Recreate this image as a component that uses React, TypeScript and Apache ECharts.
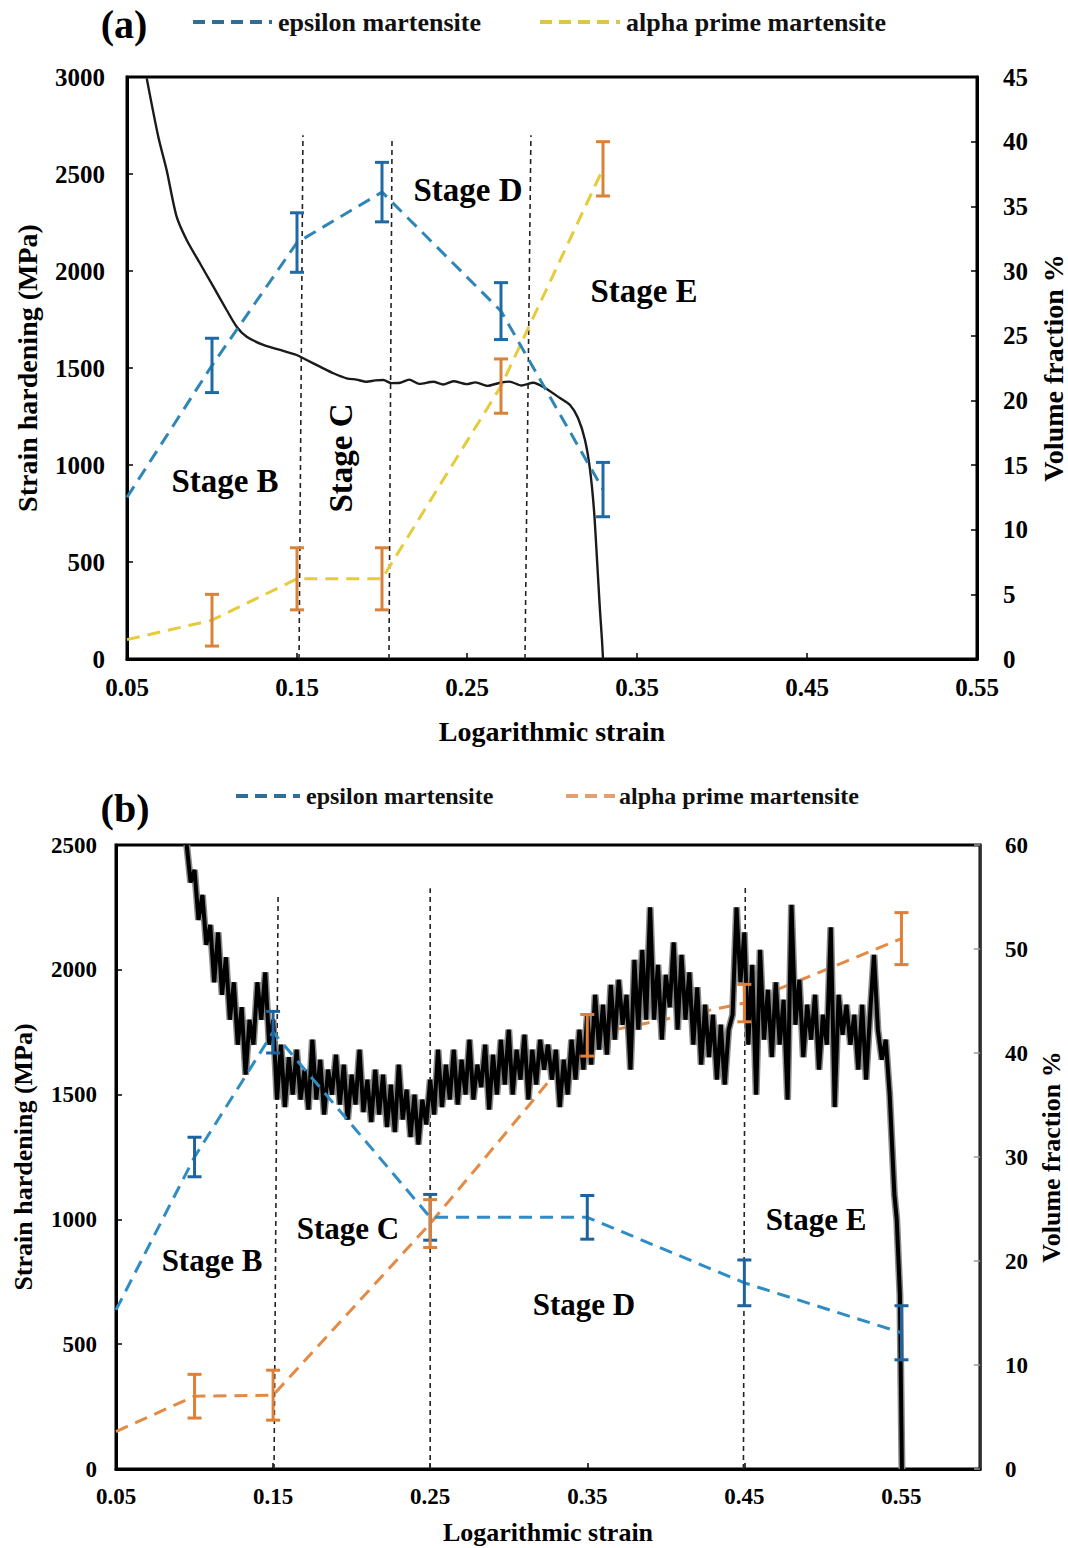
import React, { useEffect, useRef } from "react";
import * as echarts from "echarts";

// ---------- Panel (a) data ----------
const aStrain = [0.0616, 0.0684, 0.0733, 0.0792, 0.0851, 0.0929, 0.1008, 0.1086, 0.1145, 0.1204, 0.1302, 0.14, 0.1498, 0.1557, 0.1635, 0.1714, 0.1792, 0.185, 0.191, 0.196, 0.2008, 0.2055, 0.2106, 0.216, 0.222, 0.2302, 0.236, 0.242, 0.2498, 0.255, 0.262, 0.2694, 0.275, 0.282, 0.289, 0.2959, 0.3047, 0.3106, 0.3153, 0.3194, 0.3224, 0.3247, 0.3265, 0.3282, 0.3294, 0.33];
const aHardening = [2993, 2692, 2521, 2280, 2160, 2040, 1919, 1799, 1713, 1661, 1619, 1593, 1567, 1541, 1507, 1473, 1447, 1440, 1429, 1436, 1438, 1422, 1424, 1440, 1418, 1429, 1415, 1432, 1417, 1426, 1408, 1424, 1430, 1410, 1424, 1397, 1345, 1309, 1242, 1129, 974, 768, 510, 253, 98, 0];

const aEpsStrain = [0.05, 0.1, 0.15, 0.2, 0.27, 0.33];
const aEpsVal = [12.5, 22.7, 32.2, 36.1, 26.9, 13.1];
const aEpsErr = [null, 2.1, 2.3, 2.3, 2.2, 2.1];
const aAlphaStrain = [0.05, 0.1, 0.15, 0.2, 0.27, 0.33];
const aAlphaVal = [1.5, 3.0, 6.2, 6.2, 21.1, 37.9];
const aAlphaErr = [null, 2.0, 2.4, 2.4, 2.1, 2.1];

const aStageTop = [0.1535, 0.2059, 0.2876];
const aStageBottom = [0.1512, 0.2041, 0.2841];
const aStageTopValue = [2700, 2686, 2700];

// ---------- Panel (b) data ----------
const bCurveStart = 0.095;
const bCurveStep = 0.0025;
const bHardening = [
  2500, 2350, 2400, 2200, 2300, 2100, 2180, 1950, 2150, 1900,
  2050, 1800, 1950, 1700, 1850, 1580, 1800, 1700, 1950, 1800,
  1990, 1700, 1800, 1480, 1700, 1450, 1650, 1500, 1680, 1480,
  1600, 1440, 1720, 1480, 1640, 1420, 1600, 1500, 1660, 1460,
  1620, 1400, 1580, 1460, 1680, 1430, 1560, 1390, 1600, 1420,
  1580, 1370, 1540, 1350, 1620, 1400, 1520, 1330, 1500, 1300,
  1480, 1380, 1560, 1420, 1680, 1450, 1620, 1480, 1680, 1460,
  1640, 1500, 1720, 1480, 1620, 1530, 1700, 1440, 1660, 1500,
  1720, 1540, 1760, 1500, 1680, 1560, 1740, 1480, 1680, 1540,
  1720, 1600, 1700, 1560, 1680, 1450, 1640, 1500, 1720, 1560,
  1760, 1600, 1820, 1620, 1900, 1680, 1860, 1660, 1940, 1720,
  1960, 1780, 1900, 1600, 2040, 1760, 2080, 1800, 2250, 1800,
  2020, 1720, 1980, 1850, 2110, 1760, 2060, 1800, 1990, 1700,
  1930, 1620, 1860, 1650, 1820, 1560, 1780, 1540, 1760, 1820,
  2250, 1950, 2150, 1700, 2020, 1500, 2080, 1720, 1920, 1650,
  1950, 1700, 1880, 1480, 2260, 1780, 1960, 1650, 1860, 1720,
  1900, 1600, 1820, 1700, 2170, 1450, 1900, 1740, 1860, 1700,
  1820, 1600, 1860, 1560, 1820, 2060, 1760, 1640, 1720, 1500,
];
const bTailStrain = [0.544, 0.5455, 0.547, 0.548, 0.549, 0.5495, 0.5503];
const bTailHardening = [1300, 1100, 1000, 850, 700, 420, 0];

const bEpsStrain = [0.05, 0.1, 0.15, 0.25, 0.35, 0.45, 0.55];
const bEpsVal = [15.3, 30.0, 42.0, 24.2, 24.2, 17.9, 13.1];
const bEpsErr = [null, 1.9, 2.0, 2.2, 2.1, 2.2, 2.6];
const bAlphaStrain = [0.05, 0.1, 0.15, 0.25, 0.35, 0.45, 0.55];
const bAlphaVal = [3.6, 7.0, 7.1, 23.6, 41.7, 44.8, 51.0];
const bAlphaErr = [null, 2.1, 2.4, 2.3, 2.0, 1.8, 2.5];

const bStageTop = [0.1532, 0.25, 0.4506];
const bStageBottom = [0.1506, 0.25, 0.4494];
const bStageTopValue = [2300, 2327, 2340];

const xTicksA = [0.05, 0.15, 0.25, 0.35, 0.45, 0.55];
const xTicksB = [0.05, 0.15, 0.25, 0.35, 0.45, 0.55];

const FONT = '"Liberation Serif", "Times New Roman", serif';

function zip(xs: number[], ys: number[]) {
  return xs.map((x, i) => [x, ys[i]]);
}
function errData(xs: number[], vs: number[], es: (number | null)[]) {
  const out: number[][] = [];
  xs.forEach((x, i) => {
    const e = es[i];
    if (e != null) out.push([x, vs[i] - e, vs[i] + e]);
  });
  return out;
}
function errSeries(data: number[][], color: string, gi: number, yi: number) {
  return {
    type: "custom",
    xAxisIndex: gi,
    yAxisIndex: yi,
    z: 10,
    encode: { x: 0, y: [1, 2] },
    data,
    renderItem: (params: any, api: any) => {
      const x = api.value(0);
      const p1 = api.coord([x, api.value(2)]);
      const p2 = api.coord([x, api.value(1)]);
      const w = 7;
      const st = { stroke: color, lineWidth: 3 };
      return {
        type: "group",
        children: [
          { type: "line", shape: { x1: p1[0], y1: p1[1], x2: p2[0], y2: p2[1] }, style: st },
          { type: "line", shape: { x1: p1[0] - w, y1: p1[1], x2: p1[0] + w, y2: p1[1] }, style: st },
          { type: "line", shape: { x1: p2[0] - w, y1: p2[1], x2: p2[0] + w, y2: p2[1] }, style: st },
        ],
      };
    },
  };
}
function dashSeries(data: number[][], color: string, gi: number, yi: number, z: number) {
  return {
    type: "line",
    xAxisIndex: gi,
    yAxisIndex: yi,
    data,
    showSymbol: false,
    symbol: "none",
    z,
    lineStyle: { color, width: 3, type: [13, 8] },
  };
}
function stageLines(tops: number[], bottoms: number[], topVals: number[], gi: number) {
  return tops.map((t, i) => ({
    type: "line",
    xAxisIndex: gi,
    yAxisIndex: gi * 2,
    data: [
      [bottoms[i], 0],
      [t, topVals[i]],
    ],
    showSymbol: false,
    symbol: "none",
    z: 1,
    lineStyle: { color: "#222", width: 1.6, type: [5, 4] },
  }));
}

function axisBase(fs: number, margin: number) {
  return {
    axisLine: { show: true, onZero: false, lineStyle: { color: "#000", width: 3 } },
    axisTick: { show: true, inside: true, length: 6, lineStyle: { color: "#000", width: 1.5 } },
    axisLabel: { color: "#000", fontFamily: FONT, fontWeight: "bold", fontSize: fs, margin, formatter: (v: number) => String(v) },
    splitLine: { show: false },
  };
}
function nameStyle(fs: number) {
  return { color: "#000", fontFamily: FONT, fontWeight: "bold", fontSize: fs };
}

function legendGraphic(y: number, items: { x1: number; x2: number; tx: number; color: string; text: string }[], fs: number) {
  const out: any[] = [];
  items.forEach((it) => {
    out.push({
      type: "line",
      shape: { x1: it.x1, y1: y, x2: it.x2, y2: y },
      style: { stroke: it.color, lineWidth: 4, lineDash: [12, 7] },
    });
    out.push({
      type: "text",
      x: it.tx,
      y,
      style: { text: it.text, fill: "#111", font: `bold ${fs}px ${FONT}`, verticalAlign: "middle", align: "left" },
    });
  });
  return out;
}
function label(text: string, x: number, y: number, fs: number, rotation = 0) {
  return {
    type: "text",
    x,
    y,
    rotation,
    z: 20,
    style: { text, fill: "#000", font: `bold ${fs}px ${FONT}`, align: "center", verticalAlign: "middle" },
  };
}

export default function App() {
  const ref = useRef<HTMLDivElement>(null);
  useEffect(() => {
    document.body.style.margin = "0";
    if (!ref.current) return;
    const chart = echarts.init(ref.current, undefined, { renderer: "svg" });
    const bCurve = bHardening.map((v, i) => [bCurveStart + i * bCurveStep, v]).concat(zip(bTailStrain, bTailHardening));

    const option: any = {
      animation: false,
      backgroundColor: "#fff",
      grid: [
        { left: 127, top: 77, width: 850, height: 582, show: true, borderColor: "#000", borderWidth: 3, backgroundColor: "transparent", outerBoundsMode: "none" },
        { left: 116, top: 845, width: 864, height: 624, show: true, borderColor: "#000", borderWidth: 3, backgroundColor: "transparent", outerBoundsMode: "none" },
      ],
      xAxis: [
        {
          type: "value",
          gridIndex: 0,
          min: 0.05,
          max: 0.55,
          name: "Logarithmic strain",
          nameLocation: "middle",
          nameGap: 58,
          nameTextStyle: nameStyle(28),
          ...axisBase(25, 16),
          axisLabel: { ...axisBase(25, 16).axisLabel, customValues: xTicksA, formatter: (v: number) => v.toFixed(2) },
          axisTick: { ...axisBase(25, 16).axisTick, customValues: xTicksA },
        },
        {
          type: "value",
          gridIndex: 1,
          min: 0.05,
          max: 0.6,
          name: "Logarithmic strain",
          nameLocation: "middle",
          nameGap: 50,
          nameTextStyle: nameStyle(26),
          ...axisBase(23, 16),
          axisLabel: { ...axisBase(23, 16).axisLabel, customValues: xTicksB, formatter: (v: number) => v.toFixed(2) },
          axisTick: { ...axisBase(23, 16).axisTick, customValues: xTicksB },
        },
      ],
      yAxis: [
        {
          type: "value",
          gridIndex: 0,
          position: "left",
          min: 0,
          max: 3000,
          interval: 500,
          name: "Strain hardening (MPa)",
          nameLocation: "middle",
          nameRotate: 90,
          nameGap: 86,
          nameTextStyle: nameStyle(28),
          ...axisBase(25, 22),
        },
        {
          type: "value",
          gridIndex: 0,
          position: "right",
          min: 0,
          max: 45,
          interval: 5,
          name: "Volume fraction %",
          nameLocation: "middle",
          nameRotate: 90,
          nameGap: 62,
          nameTextStyle: nameStyle(28),
          ...axisBase(25, 26),
        },
        {
          type: "value",
          gridIndex: 1,
          position: "left",
          min: 0,
          max: 2500,
          interval: 500,
          name: "Strain hardening (MPa)",
          nameLocation: "middle",
          nameRotate: 90,
          nameGap: 80,
          nameTextStyle: nameStyle(26),
          ...axisBase(23, 19),
        },
        {
          type: "value",
          gridIndex: 1,
          position: "right",
          min: 0,
          max: 60,
          interval: 10,
          name: "Volume fraction %",
          nameLocation: "middle",
          nameRotate: 90,
          nameGap: 55,
          nameTextStyle: nameStyle(26),
          ...axisBase(23, 25),
          axisLine: { show: true, onZero: false, lineStyle: { color: "#333", width: 2.5 } },
          axisTick: { show: true, inside: true, length: 6, lineStyle: { color: "#999", width: 1.5 } },
        },
      ],
      series: [
        ...stageLines(aStageTop, aStageBottom, aStageTopValue, 0),
        {
          type: "line",
          xAxisIndex: 0,
          yAxisIndex: 0,
          data: zip(aStrain, aHardening),
          showSymbol: false,
          symbol: "none",
          smooth: 0.25,
          z: 3,
          lineStyle: { color: "#1a1a1a", width: 2.4 },
        },
        dashSeries(zip(aAlphaStrain, aAlphaVal), "#e6cb3c", 0, 1, 4),
        dashSeries(zip(aEpsStrain, aEpsVal), "#2f86b6", 0, 1, 4),
        errSeries(errData(aEpsStrain, aEpsVal, aEpsErr), "#1f6aa5", 0, 1),
        errSeries(errData(aAlphaStrain, aAlphaVal, aAlphaErr), "#d9823a", 0, 1),

        ...stageLines(bStageTop, bStageBottom, bStageTopValue, 1),
        dashSeries(zip(bAlphaStrain, bAlphaVal), "#e38a44", 1, 3, 2),
        {
          type: "line",
          xAxisIndex: 1,
          yAxisIndex: 2,
          data: bCurve,
          showSymbol: false,
          symbol: "none",
          z: 3,
          lineStyle: { color: "#8a8a8a", width: 7 },
        },
        {
          type: "line",
          xAxisIndex: 1,
          yAxisIndex: 2,
          data: bCurve,
          showSymbol: false,
          symbol: "none",
          z: 3,
          lineStyle: { color: "#000", width: 4 },
        },
        dashSeries(zip(bEpsStrain, bEpsVal), "#2f8cc4", 1, 3, 4),
        errSeries(errData(bEpsStrain, bEpsVal, bEpsErr), "#1f62a0", 1, 3),
        errSeries(errData(bAlphaStrain, bAlphaVal, bAlphaErr), "#e07f36", 1, 3),
      ],
      graphic: [
        label("(a)", 124, 24, 40),
        ...legendGraphic(22, [
          { x1: 193, x2: 272, tx: 278, color: "#2f6f96", text: "epsilon martensite" },
          { x1: 540, x2: 620, tx: 626, color: "#dcc64a", text: "alpha prime martensite" },
        ], 26),
        label("Stage D", 468, 190, 33),
        label("Stage E", 644, 291, 33),
        label("Stage B", 225, 481, 33),
        label("Stage C", 341, 458, 33, Math.PI / 2),

        label("(b)", 125, 808, 40),
        ...legendGraphic(796, [
          { x1: 236, x2: 300, tx: 306, color: "#2f6f96", text: "epsilon martensite" },
          { x1: 566, x2: 615, tx: 619, color: "#e0a070", text: "alpha prime martensite" },
        ], 24),
        label("Stage B", 212, 1260, 31),
        label("Stage C", 348, 1228, 31),
        label("Stage D", 584, 1304, 31),
        label("Stage E", 816, 1219, 31),
      ],
    };
    chart.setOption(option);
    return () => chart.dispose();
  }, []);
  return <div ref={ref} style={{ width: 1068, height: 1548 }} />;
}
